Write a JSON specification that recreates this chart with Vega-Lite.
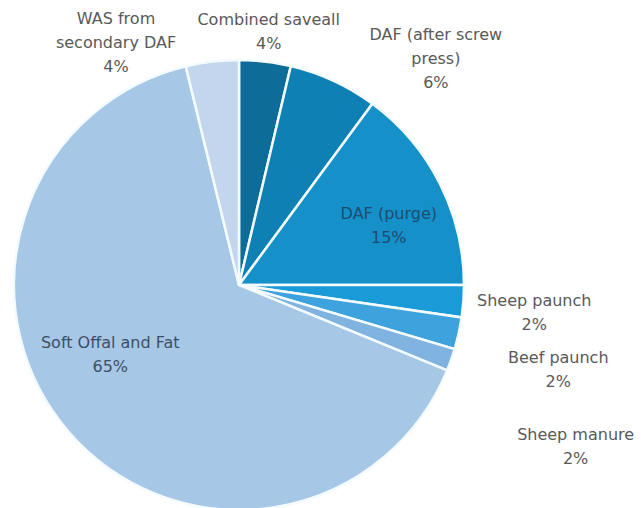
{
  "$schema": "https://vega.github.io/schema/vega-lite/v6.json",
  "width": 450,
  "height": 450,
  "autosize": {"type": "none"},
  "padding": {"left": 14, "top": 60, "right": 177, "bottom": 0},
  "background": "white",
  "data": {
    "values": [
      {"cat": "Combined saveall", "value": 3.7, "order": 1, "label": "Combined saveall\n4%"},
      {"cat": "DAF (after screw press)", "value": 6.4, "order": 2, "label": "DAF (after screw\npress)\n6%"},
      {"cat": "DAF (purge)", "value": 14.9, "order": 3, "label": "DAF (purge)\n15%"},
      {"cat": "Sheep paunch", "value": 2.3, "order": 4, "label": "Sheep paunch\n2%"},
      {"cat": "Beef paunch", "value": 2.3, "order": 5, "label": "Beef paunch\n2%"},
      {"cat": "Sheep manure", "value": 1.6, "order": 6, "label": "Sheep manure\n2%"},
      {"cat": "Soft Offal and Fat", "value": 65.0, "order": 7, "label": "Soft Offal and Fat\n65%"},
      {"cat": "WAS from secondary DAF", "value": 3.8, "order": 8, "label": "WAS from\nsecondary DAF\n4%"}
    ]
  },
  "encoding": {
    "theta": {"field": "value", "type": "quantitative", "stack": true},
    "order": {"field": "order", "type": "quantitative"}
  },
  "layer": [
    {
      "mark": {"type": "arc", "outerRadius": 225, "stroke": "#f4fbff", "strokeWidth": 2.5},
      "encoding": {
        "color": {
          "field": "cat",
          "type": "nominal",
          "legend": null,
          "scale": {
            "domain": ["Combined saveall", "DAF (after screw press)", "DAF (purge)", "Sheep paunch", "Beef paunch", "Sheep manure", "Soft Offal and Fat", "WAS from secondary DAF"],
            "range": ["#0e6c98", "#0f80b4", "#1590c9", "#1a9bd7", "#3ea2dc", "#80b3df", "#a7c7e7", "#c4d6ee"]
          }
        }
      }
    },
    {
      "mark": {"type": "text", "radius": 256, "dx": 0, "dy": -11, "fill": "#595959"},
      "encoding": {"text": {"field": "label"}, "opacity": {"condition": {"test": "datum.cat === 'Combined saveall'", "value": 1}, "value": 0}}
    },
    {
      "mark": {"type": "text", "radius": 290, "dx": 75, "dy": 13, "fill": "#595959"},
      "encoding": {"text": {"field": "label"}, "opacity": {"condition": {"test": "datum.cat === 'DAF (after screw press)'", "value": 1}, "value": 0}}
    },
    {
      "mark": {"type": "text", "radius": 160, "dx": 7, "dy": 1, "fill": "#1d4d70"},
      "encoding": {"text": {"field": "label"}, "opacity": {"condition": {"test": "datum.cat === 'DAF (purge)'", "value": 1}, "value": 0}}
    },
    {
      "mark": {"type": "text", "radius": 296, "dx": 0, "dy": -5, "fill": "#595959"},
      "encoding": {"text": {"field": "label"}, "opacity": {"condition": {"test": "datum.cat === 'Sheep paunch'", "value": 1}, "value": 0}}
    },
    {
      "mark": {"type": "text", "radius": 330, "dx": -3, "dy": 2, "fill": "#595959"},
      "encoding": {"text": {"field": "label"}, "opacity": {"condition": {"test": "datum.cat === 'Beef paunch'", "value": 1}, "value": 0}}
    },
    {
      "mark": {"type": "text", "radius": 375, "dx": -17, "dy": 25, "fill": "#595959"},
      "encoding": {"text": {"field": "label"}, "opacity": {"condition": {"test": "datum.cat === 'Sheep manure'", "value": 1}, "value": 0}}
    },
    {
      "mark": {"type": "text", "radius": 150, "dx": -15, "dy": -40, "fill": "#3d4f63"},
      "encoding": {"text": {"field": "label"}, "opacity": {"condition": {"test": "datum.cat === 'Soft Offal and Fat'", "value": 1}, "value": 0}}
    },
    {
      "mark": {"type": "text", "radius": 260, "dx": -92, "dy": -8, "fill": "#595959"},
      "encoding": {"text": {"field": "label"}, "opacity": {"condition": {"test": "datum.cat === 'WAS from secondary DAF'", "value": 1}, "value": 0}}
    }
  ],
  "config": {
    "view": {"stroke": null},
    "text": {"font": "DejaVu Sans", "fontSize": 16, "lineHeight": 24, "lineBreak": "\n", "baseline": "middle", "align": "center"}
  }
}
